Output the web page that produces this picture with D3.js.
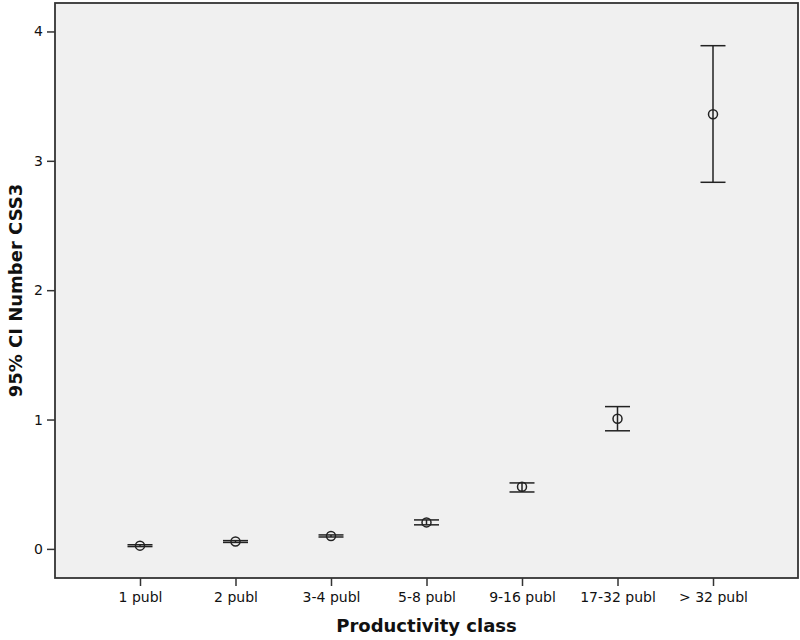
<!DOCTYPE html>
<html>
<head>
<meta charset="utf-8">
<script src="https://cdn.jsdelivr.net/npm/d3@7"></script>
<style>
  body { margin: 0; background: #fff; }
  text { font-family: "DejaVu Sans", "Open Sans", sans-serif; fill: #111; }
</style>
</head>
<body>
<div id="chart"></div>
<script>
(function() {
  // Data
  var classes = ["1 publ", "2 publ", "3-4 publ", "5-8 publ", "9-16 publ", "17-32 publ", "> 32 publ"];
  var means = [0.025, 0.057, 0.10, 0.205, 0.48, 1.006, 3.36];
  var lower = [0.018, 0.050, 0.092, 0.186, 0.44, 0.913, 2.834];
  var upper = [0.032, 0.064, 0.108, 0.224, 0.51, 1.10, 3.89];
  var yTicks = [0, 1, 2, 3, 4];

  var width = 800, height = 640;
  var margin = {top: 3, left: 55, right: 2, bottom: 62};
  var innerW = width - margin.left - margin.right,
    innerH = height - margin.top - margin.bottom;

  var svg = d3.select("#chart")
    .append("svg")
    .attr("width", width)
    .attr("height", height);

  var g = svg.append("g")
    .attr("transform", "translate(" + margin.left + "," + margin.top + ")");

  // Scales
  var x = d3.scalePoint()
    .domain(classes)
    .range([0, innerW])
    .padding(0.89);

  var y = d3.scaleLinear()
    .domain([-0.225, 4.22])
    .range([innerH, 0]);

  // Plot background
  g.append("rect")
    .attr("width", innerW)
    .attr("height", innerH)
    .attr("fill", "#f0f0f0");

  // Axes
  var yAxis = g.append("g")
    .call(d3.axisLeft(y).tickValues(yTicks).tickFormat(d3.format("d")).tickSize(8).tickSizeOuter(0));
  yAxis.select(".domain").remove();
  yAxis.selectAll("line").attr("stroke", "#333").attr("stroke-width", 1.5);
  yAxis.selectAll("text").attr("font-size", 14).attr("dx", "-1");

  var xAxis = g.append("g")
    .attr("transform", "translate(0," + innerH + ")")
    .call(d3.axisBottom(x).tickSize(8).tickSizeOuter(0));
  xAxis.select(".domain").remove();
  xAxis.selectAll("line").attr("stroke", "#333").attr("stroke-width", 1.5);
  xAxis.selectAll("text").attr("font-size", 14).attr("dy", "0.95em");

  // Plot frame
  g.append("rect")
    .attr("width", innerW)
    .attr("height", innerH)
    .attr("fill", "none")
    .attr("stroke", "#333")
    .attr("stroke-width", 1.8);

  // Error bars
  var rows = classes.map(function(c, i) {
    return {cls: c, mean: means[i], lo: lower[i], hi: upper[i]};
  });

  var capW = 12.5;
  var bars = g.selectAll(".ci")
    .data(rows)
    .enter().append("g")
    .attr("class", "ci")
    .attr("stroke", "#222")
    .attr("stroke-width", 1.5)
    .attr("fill", "none");

  bars.append("line")
    .attr("x1", function(d) { return x(d.cls); })
    .attr("x2", function(d) { return x(d.cls); })
    .attr("y1", function(d) { return y(d.lo); })
    .attr("y2", function(d) { return y(d.hi); });

  bars.append("line")
    .attr("x1", function(d) { return x(d.cls) - capW; })
    .attr("x2", function(d) { return x(d.cls) + capW; })
    .attr("y1", function(d) { return y(d.hi); })
    .attr("y2", function(d) { return y(d.hi); });

  bars.append("line")
    .attr("x1", function(d) { return x(d.cls) - capW; })
    .attr("x2", function(d) { return x(d.cls) + capW; })
    .attr("y1", function(d) { return y(d.lo); })
    .attr("y2", function(d) { return y(d.lo); });

  bars.append("circle")
    .attr("cx", function(d) { return x(d.cls); })
    .attr("cy", function(d) { return y(d.mean); })
    .attr("r", 4.5);

  // Axis titles
  svg.append("text")
    .attr("x", margin.left + innerW / 2)
    .attr("y", 632)
    .attr("text-anchor", "middle")
    .attr("font-size", 18)
    .attr("font-weight", "bold")
    .text("Productivity class");

  svg.append("text")
    .attr("transform", "translate(22," + (margin.top + innerH / 2) + ") rotate(-90)")
    .attr("text-anchor", "middle")
    .attr("font-size", 18)
    .attr("font-weight", "bold")
    .text("95% CI Number CSS3");
})();
</script>
</body>
</html>
